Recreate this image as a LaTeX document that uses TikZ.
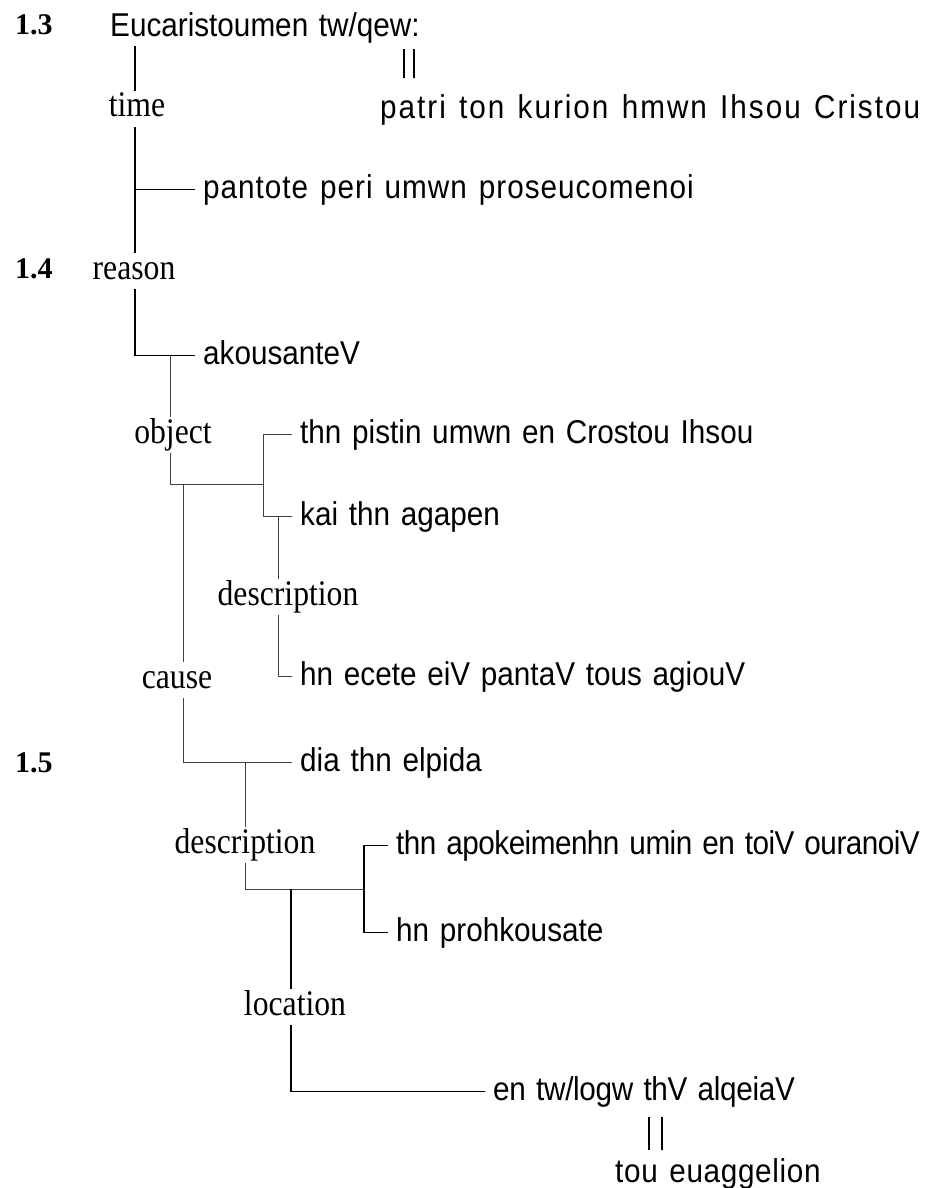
\documentclass[tikz,border=0pt]{standalone}
\usepackage{fontspec}
\setmainfont{Liberation Serif}
\newfontfamily\grk[FakeStretch=0.9, WordSpace=1.3]{Liberation Sans}
\newfontfamily\rel[FakeStretch=0.88]{Liberation Serif}
\usepackage{tikz}

\begin{document}
\begin{tikzpicture}[x=1pt, y=-1pt,
            every node/.style={inner sep=0pt},
            grk/.style={font=\grk\fontsize{33}{38}\selectfont, anchor=base west,
                        inner xsep=8pt, inner ysep=2pt, text height=24pt, text depth=7pt},
            wide/.style={font=\grk\fontsize{33}{38}\selectfont\addfontfeature{LetterSpace=#1}},
            rel/.style={font=\rel\fontsize{36}{40}\selectfont, anchor=base,
                        inner sep=2pt, text height=24pt, text depth=8pt},
            vno/.style={font=\bfseries\fontsize{30}{36}\selectfont, anchor=base west},
            spine/.style={draw, line width=1.5pt},
            twig/.style={draw, line width=0.9pt, black!75},
            eqbar/.style={draw, line width=1.2pt}]
        \useasboundingbox (0,0) rectangle (946,1188);

        \node[vno] (v13) at (15,35) {1.3};
        \node[grk] (eucar) at (102,37) {Eucaristoumen tw/qew:};
        \node[grk, wide=6] (patri) at (372,119) {patri ton kurion hmwn Ihsou Cristou};
        \node[rel] (time) at (137,117) {time};
        \node[grk, wide=3] (pantote) at (195,198) {pantote peri umwn proseucomenoi};
        \node[vno] (v14) at (15,278) {1.4};
        \node[rel] (reason) at (134,279) {reason};
        \node[grk] (akouV) at (195,364) {akousanteV};
        \node[rel] (object) at (173,443) {object};
        \node[grk] (pistin) at (292,443) {thn pistin umwn en Crostou Ihsou};
        \node[grk] (kai) at (292,525) {kai thn agapen};
        \node[rel] (descA) at (288,605) {description};
        \node[grk] (hn) at (292,685) {hn ecete eiV pantaV tous agiouV};
        \node[rel] (cause) at (177,688) {cause};
        \node[vno] (v15) at (15,772) {1.5};
        \node[grk] (dia) at (292,771) {dia thn elpida};
        \node[rel] (descB) at (245,853) {description};
        \node[grk, wide=-1.6] (apok) at (388,854) {thn apokeimenhn umin en toiV ouranoiV};
        \node[grk] (prohk) at (388,941) {hn prohkousate};
        \node[rel] (loc) at (295,1015) {location};
        \node[grk, wide=-1] (alqeia) at (485,1100) {en tw/logw thV alqeiaV};
        \node[grk, wide=2] (tou) at (607,1182) {tou euaggelion};

        \coordinate (objT) at (170,484);
        \coordinate (pairT) at (263,484);
        \coordinate (causeT) at (183,484);
        \coordinate (descT) at (245,889);
        \coordinate (locT) at (291,889);

        \draw[spine] (135,0 |- eucar.south) -- (135,0 |- time.north);
        \draw[spine] (135,0 |- time.south) -- (135,0 |- reason.north);
        \draw[spine] (135,0 |- pantote.west) -- (pantote.west);
        \draw[eqbar, shorten <=3pt, shorten >=15pt] (404,0 |- eucar.south) -- (404,0 |- patri.north);
        \draw[eqbar, shorten <=3pt, shorten >=15pt] (414,0 |- eucar.south) -- (414,0 |- patri.north);
        \draw[spine] (135,0 |- reason.south) |- (akouV.west);

        \draw[twig] (objT |- akouV.west) -- (objT |- object.north);
        \draw[twig] (objT |- object.south) -- (objT) -- (pairT) |- (pistin.west);
        \draw[twig] (pairT) |- (kai.west);
        \draw[twig] (278,0 |- kai.west) -- (278,0 |- descA.north);
        \draw[twig] (278,0 |- descA.south) |- (hn.west);
        \draw[twig] (causeT) -- (causeT |- cause.north);
        \draw[twig] (causeT |- cause.south) |- (dia.west);

        \draw[twig] (descT |- dia.west) -- (descT |- descB.north);
        \draw[twig] (descT |- descB.south) -- (descT) -- (364,0 |- descT);
        \draw[spine] (apok.west) -| (364,0 |- descT) |- (prohk.west);
        \draw[spine] (locT) -- (locT |- loc.north);
        \draw[spine] (locT |- loc.south) |- (alqeia.west);
        \draw[eqbar, shorten <=8pt, shorten >=6pt] (649,0 |- alqeia.south) -- (649,0 |- tou.north);
        \draw[eqbar, shorten <=8pt, shorten >=6pt] (662,0 |- alqeia.south) -- (662,0 |- tou.north);
\end{tikzpicture}
\end{document}
